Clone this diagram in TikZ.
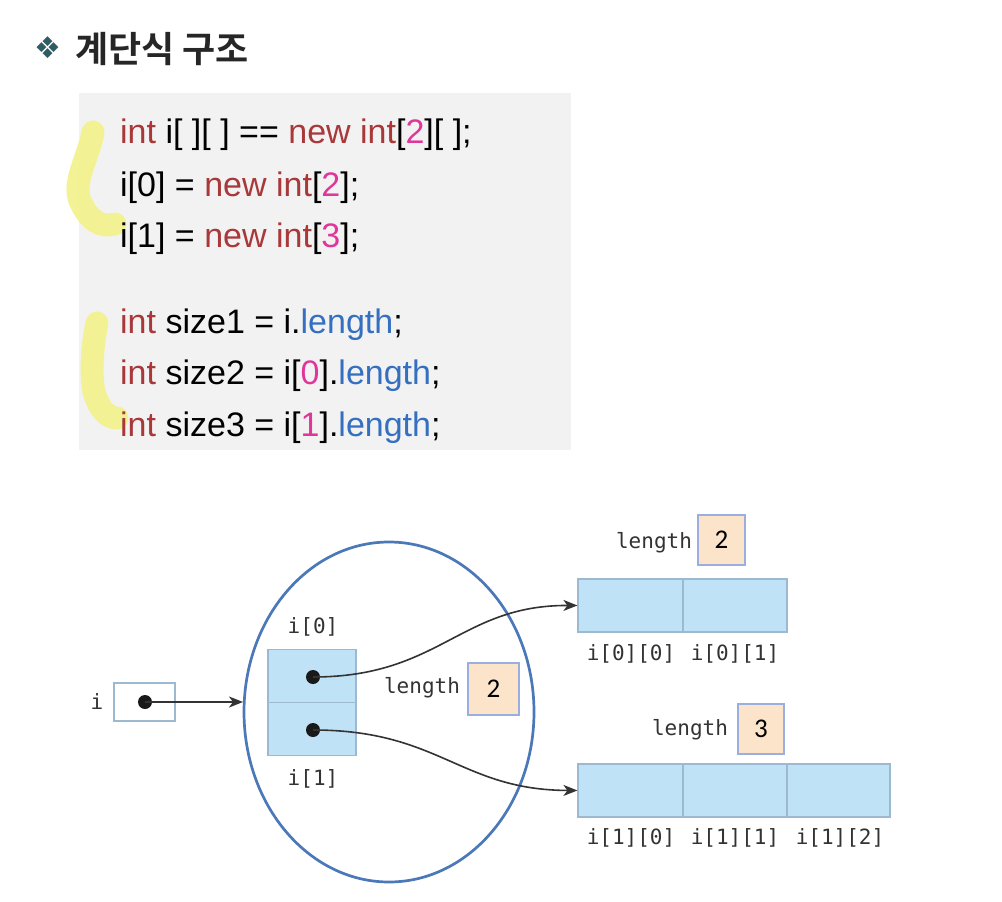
\documentclass[tikz,border=0pt]{standalone}
\usepackage{fontspec}
\setmainfont{Liberation Sans}
\newfontfamily\krfont{Noto Sans CJK KR}[BoldFont={* Bold}]
\newfontfamily\djfont{DejaVu Sans}
\newfontfamily\monofont{DejaVu Sans Mono}
\newfontfamily\carlfont{Carlito}
\usetikzlibrary{arrows.meta}
\definecolor{kw}{HTML}{A8383A}
\definecolor{num}{HTML}{E0359A}
\definecolor{fld}{HTML}{3570C0}
\definecolor{codebg}{HTML}{F2F2F2}
\definecolor{hl}{HTML}{F2F28A}
\definecolor{cellfill}{HTML}{BFE2F7}
\definecolor{celldraw}{HTML}{9DB9D2}
\definecolor{lenfill}{HTML}{FBE4C9}
\definecolor{lendraw}{HTML}{9AAEE0}
\definecolor{ring}{HTML}{4B78B8}
\definecolor{lbl}{HTML}{333333}
\definecolor{bullet}{HTML}{2F5B62}
\tikzset{
  codeline/.style={anchor=base west, inner sep=0pt, font=\fontsize{34}{40}\selectfont},
  cell/.style={draw=celldraw, fill=cellfill, line width=1.2pt},
  lenbox/.style={draw=lendraw, fill=lenfill, line width=1.2pt, minimum width=#1, inner sep=0pt, font=\carlfont\fontsize{27}{30}\selectfont},
  monolbl/.style={text=lbl, inner sep=0pt, font=\monofont\fontsize{21}{25}\selectfont},
  ptr/.style={draw=black!80, line width=1.6pt, -{Stealth[length=14pt,width=11pt,inset=4pt]}},
  hlstroke/.style={draw=hl, line width=23pt, line cap=round, line join=round, opacity=0.9},
  dotmark/.style={circle, fill=black!90, inner sep=0pt, minimum size=14pt}
}
\newcommand{\kwd}[1]{\textcolor{kw}{#1}}
\newcommand{\nm}[1]{\textcolor{num}{#1}}
\newcommand{\fl}[1]{\textcolor{fld}{#1}}
\begin{document}
\begin{tikzpicture}[x=1pt,y=-1pt]
\useasboundingbox (0,0) rectangle (1002,902);
\fill[white] (0,0) rectangle (1002,902);
% title
\node[text=bullet, font=\djfont\fontsize{30}{34}\selectfont, inner sep=0pt] (bul) at (48,48) {❖};
\node[anchor=base west, inner sep=0pt, text=black!85, font=\krfont\bfseries\fontsize{36}{40}\selectfont] (title) at (75,62) {계단식 구조};
% code box
\fill[codebg] (79,93) rectangle (571,450);
% highlighter
\path[hlstroke] (93,132) .. controls (88,160) and (70,185) .. (82,205) .. controls (90,220) and (100,228) .. (115,224);
\path[hlstroke] (97,323) .. controls (92,345) and (90,380) .. (95,395) .. controls (100,410) and (108,418) .. (117,418);
% code
\node[codeline] (c1) at (120,143) {\kwd{int} i[ ][ ] == \kwd{new int}[\nm{2}][ ];};
\node[codeline] (c2) at (120,196) {i[0] = \kwd{new int}[\nm{2}];};
\node[codeline] (c3) at (120,247) {i[1] = \kwd{new int}[\nm{3}];};
\node[codeline] (c4) at (120,333) {\kwd{int} size1 = i.\fl{length};};
\node[codeline] (c5) at (120,384) {\kwd{int} size2 = i[\nm{0}].\fl{length};};
\node[codeline] (c6) at (120,436) {\kwd{int} size3 = i[\nm{1}].\fl{length};};
% diagram
\node[monolbl] (ilbl) at (97,702) {i};
\node[draw=celldraw, fill=white, line width=1.2pt, minimum width=61pt, minimum height=38pt, inner sep=0pt] (ibox) at (144.5,702) {};
\node[dotmark] (idot) at (145,702) {};
\draw[ring, line width=2.7pt] (389,712) ellipse [x radius=145, y radius=170];
\coordinate (ringL) at (243,702);
\draw[ptr] (idot.center) -- (ringL);
\node[cell, minimum width=88pt, minimum height=53pt, inner sep=0pt] (r0) at (312,676) {};
\node[cell, minimum width=88pt, minimum height=53pt, inner sep=0pt] (r1) at (312,729) {};
\node[monolbl] (r0l) at (313,627) {i[0]};
\node[monolbl] (r1l) at (313,779) {i[1]};
\node[dotmark] (d0) at (313,677) {};
\node[dotmark] (d1) at (313,730) {};
\node[monolbl] (len0) at (422,688) {length};
\node[lenbox=51pt, minimum height=52pt] (lb0) at (493.5,689) {2};
% upper array
\node[cell, minimum width=105pt, minimum height=53pt, inner sep=0pt] (a00) at (630.5,605.5) {};
\node[cell, minimum width=104pt, minimum height=53pt, inner sep=0pt] (a01) at (735,605.5) {};
\node[monolbl] (a00l) at (631,654) {i[0][0]};
\node[monolbl] (a01l) at (735,654) {i[0][1]};
\node[monolbl] (len1) at (654,543) {length};
\node[lenbox=47pt, minimum height=50pt] (lb1) at (721.5,540) {2};
% lower array
\node[cell, minimum width=105pt, minimum height=53pt, inner sep=0pt] (a10) at (630.5,790.5) {};
\node[cell, minimum width=104pt, minimum height=53pt, inner sep=0pt] (a11) at (735,790.5) {};
\node[cell, minimum width=103pt, minimum height=53pt, inner sep=0pt] (a12) at (838.5,790.5) {};
\node[monolbl] (a10l) at (631,838) {i[1][0]};
\node[monolbl] (a11l) at (735,838) {i[1][1]};
\node[monolbl] (a12l) at (840,838) {i[1][2]};
\node[monolbl] (len2) at (690,730) {length};
\node[lenbox=46pt, minimum height=50pt] (lb2) at (761,729) {3};
% pointers
\draw[ptr] (d0.center) .. controls (440,677) and (460,605) .. (a00.west);
\draw[ptr] (d1.center) .. controls (440,730) and (460,790) .. (a10.west);
\end{tikzpicture}
\end{document}
